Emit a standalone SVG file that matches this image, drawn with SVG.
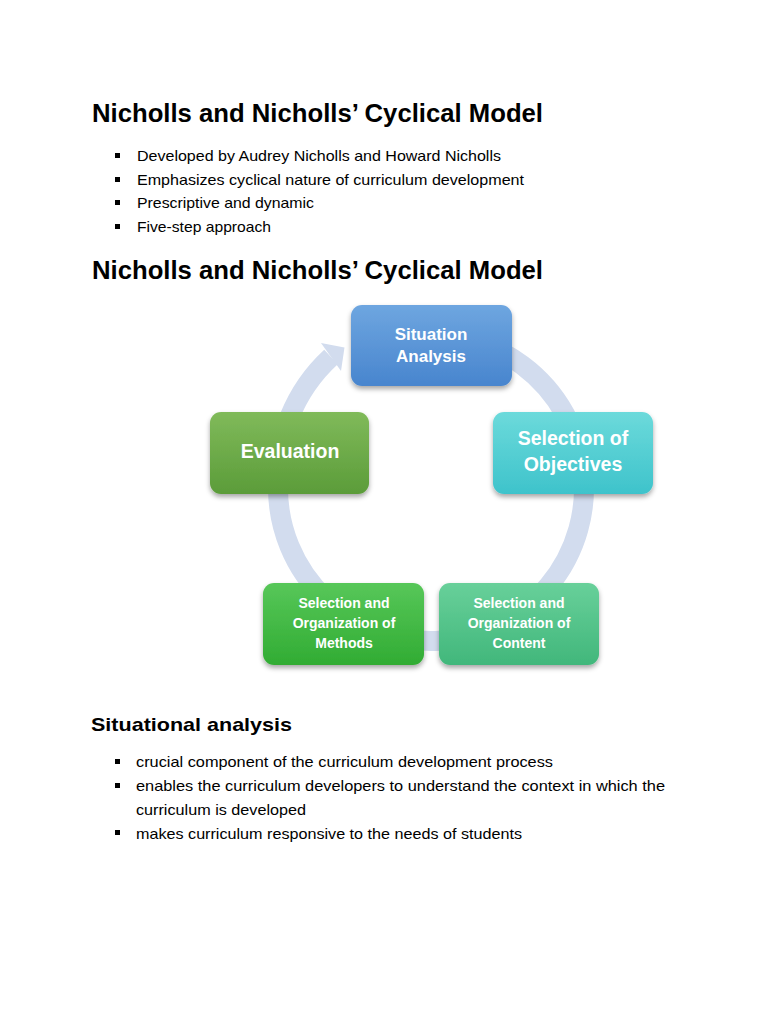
<svg xmlns="http://www.w3.org/2000/svg" width="768" height="1024" viewBox="0 0 768 1024">
<style>
.h1{font-family:"Liberation Sans",Arial,sans-serif;font-weight:bold;font-size:25px;fill:#000}
.h2{font-family:"Liberation Sans",Arial,sans-serif;font-weight:bold;font-size:19px;fill:#000}
.b{font-family:"Liberation Sans",Arial,sans-serif;font-size:14.5px;fill:#000}
.n{font-family:"Liberation Sans",Arial,sans-serif;font-weight:bold;fill:#fff;text-anchor:middle}
.box{filter:url(#sh)}
</style>
<defs>
<filter id="sh" x="-10%" y="-10%" width="125%" height="135%">
<feDropShadow dx="0" dy="3" stdDeviation="2.5" flood-color="#000" flood-opacity="0.35"/>
</filter>
<linearGradient id="gSit" x1="0" y1="0" x2="0" y2="1"><stop offset="0" stop-color="#6EA6E0"/><stop offset="1" stop-color="#4885CE"/></linearGradient>
<linearGradient id="gObj" x1="0" y1="0" x2="0" y2="1"><stop offset="0" stop-color="#6CDADB"/><stop offset="1" stop-color="#3EC3CB"/></linearGradient>
<linearGradient id="gEva" x1="0" y1="0" x2="0" y2="1"><stop offset="0" stop-color="#80BA5A"/><stop offset="1" stop-color="#5B9C39"/></linearGradient>
<linearGradient id="gMet" x1="0" y1="0" x2="0" y2="1"><stop offset="0" stop-color="#57C759"/><stop offset="1" stop-color="#31AC33"/></linearGradient>
<linearGradient id="gCon" x1="0" y1="0" x2="0" y2="1"><stop offset="0" stop-color="#68D09A"/><stop offset="1" stop-color="#41B77B"/></linearGradient>
</defs>
<rect width="768" height="1024" fill="#fff"/>

<text class="h1" x="92" y="122" textLength="451" lengthAdjust="spacingAndGlyphs">Nicholls and Nicholls’ Cyclical Model</text>
<g fill="#000">
<rect x="115" y="153" width="5" height="5"/>
<rect x="115" y="177" width="5" height="5"/>
<rect x="115" y="200" width="5" height="5"/>
<rect x="115" y="224" width="5" height="5"/>
</g>
<text class="b" x="137" y="161" textLength="364" lengthAdjust="spacingAndGlyphs">Developed by Audrey Nicholls and Howard Nicholls</text>
<text class="b" x="137" y="185" textLength="387" lengthAdjust="spacingAndGlyphs">Emphasizes cyclical nature of curriculum development</text>
<text class="b" x="137" y="208" textLength="177" lengthAdjust="spacingAndGlyphs">Prescriptive and dynamic</text>
<text class="b" x="137" y="232" textLength="134" lengthAdjust="spacingAndGlyphs">Five-step approach</text>

<text class="h1" x="92" y="279" textLength="451" lengthAdjust="spacingAndGlyphs">Nicholls and Nicholls’ Cyclical Model</text>

<g id="connectors">
<path d="M404.4 337.3 A153 153 0 1 1 278 488 A165 165 0 0 1 331 357" fill="none" stroke="#D2DCEE" stroke-width="20"/>
<polygon points="321,343 344.5,347.5 341,371" fill="#D2DCEE"/>
</g>

<g id="node-situation">
<rect class="box" x="351" y="305" width="161" height="81" rx="11" fill="url(#gSit)"/>
<text class="n" font-size="17" x="431" y="340">Situation</text>
<text class="n" font-size="17" x="431" y="362">Analysis</text>
</g>
<g id="node-objectives">
<rect class="box" x="493" y="412" width="160" height="82" rx="11" fill="url(#gObj)"/>
<text class="n" font-size="19.5" x="573" y="445">Selection of</text>
<text class="n" font-size="19.5" x="573" y="471">Objectives</text>
</g>
<g id="node-evaluation">
<rect class="box" x="210" y="412" width="159" height="82" rx="11" fill="url(#gEva)"/>
<text class="n" font-size="19.5" x="290" y="458">Evaluation</text>
</g>
<g id="node-methods">
<rect class="box" x="263" y="583" width="161" height="82" rx="11" fill="url(#gMet)"/>
<text class="n" font-size="14" x="344" y="608">Selection and</text>
<text class="n" font-size="14" x="344" y="628">Organization of</text>
<text class="n" font-size="14" x="344" y="648">Methods</text>
</g>
<g id="node-content">
<rect class="box" x="439" y="583" width="160" height="82" rx="11" fill="url(#gCon)"/>
<text class="n" font-size="14" x="519" y="608">Selection and</text>
<text class="n" font-size="14" x="519" y="628">Organization of</text>
<text class="n" font-size="14" x="519" y="648">Content</text>
</g>

<text class="h2" x="91" y="731" textLength="201" lengthAdjust="spacingAndGlyphs">Situational analysis</text>
<g fill="#000">
<rect x="115" y="759" width="5" height="5"/>
<rect x="115" y="783" width="5" height="5"/>
<rect x="115" y="830" width="5" height="5"/>
</g>
<text class="b" x="136" y="767" textLength="417" lengthAdjust="spacingAndGlyphs">crucial component of the curriculum development process</text>
<text class="b" x="136" y="791" textLength="529" lengthAdjust="spacingAndGlyphs">enables the curriculum developers to understand the context in which the</text>
<text class="b" x="136" y="815" textLength="170" lengthAdjust="spacingAndGlyphs">curriculum is developed</text>
<text class="b" x="136" y="839" textLength="386" lengthAdjust="spacingAndGlyphs">makes curriculum responsive to the needs of students</text>
</svg>
